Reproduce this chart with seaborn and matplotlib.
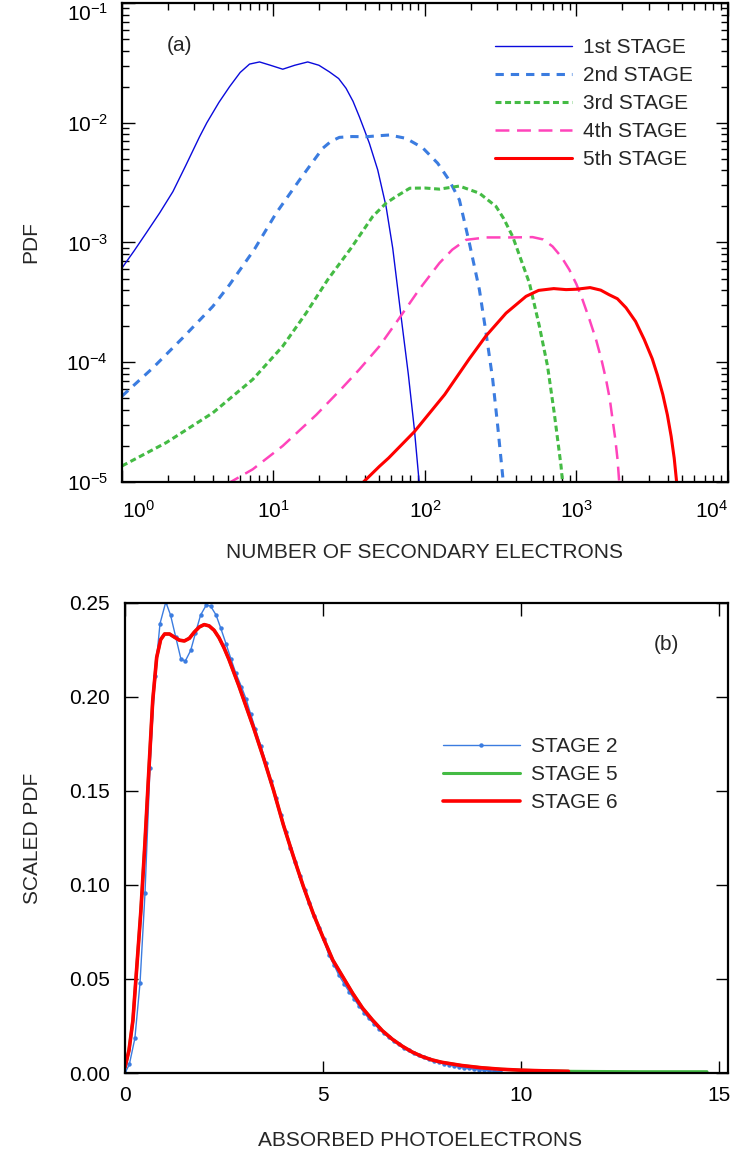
import numpy as np
import pandas as pd
import matplotlib
matplotlib.use("Agg")
import matplotlib.pyplot as plt
from matplotlib.ticker import (LogLocator, NullFormatter, FixedLocator, FormatStrFormatter,
                               LogFormatterSciNotation)
import seaborn as sns

# ---------------- Panel (a) data: PDF of number of secondary electrons ----------------
s1_x = [1.0, 1.202, 1.445, 1.770, 2.168, 2.630, 3.251, 3.631, 4.365, 5.129, 6.026, 6.950,
        8.091, 9.55, 11.51, 13.80, 16.83, 19.95, 23.39, 26.92, 30.13, 33.50, 36.90, 39.81,
        42.95, 48.75, 55.34, 61.24, 69.50, 77.62, 85.11, 91.83]
s1_y = [6.12e-4, 8.51e-4, 1.20e-3, 1.76e-3, 2.66e-3, 4.37e-3, 7.64e-3, 1.0e-2, 1.48e-2,
        2.0e-2, 2.63e-2, 3.09e-2, 3.22e-2, 3.02e-2, 2.80e-2, 3.02e-2, 3.22e-2, 3.02e-2,
        2.66e-2, 2.34e-2, 1.94e-2, 1.51e-2, 1.12e-2, 8.71e-3, 6.73e-3, 4.04e-3, 2.0e-3,
        8.97e-4, 2.42e-4, 7.94e-5, 2.75e-5, 9.5e-6]

s2_x = [1.0, 1.60, 2.52, 3.98, 5.13, 7.50, 10.42, 14.86, 21.13, 23.99, 27.23, 33.11, 40.83,
        50.12, 58.21, 74.99, 96.6, 121.3, 144.5, 168.7, 196.3, 228.6, 252.9, 279.9, 302.0,
        330.0]
s2_y = [5.21e-5, 8.97e-5, 1.60e-4, 2.93e-4, 4.44e-4, 8.81e-4, 1.76e-3, 3.33e-3, 6.12e-3,
        7.0e-3, 7.55e-3, 7.67e-3, 7.64e-3, 7.80e-3, 7.90e-3, 7.41e-3, 6.17e-3, 4.59e-3,
        3.31e-3, 2.27e-3, 9.89e-4, 4.04e-4, 1.76e-4, 7.18e-5, 2.93e-5, 9.5e-6]

s3_x = [1.0, 1.959, 3.98, 7.295, 11.51, 16.44, 22.80, 32.51, 45.19, 55.34, 64.42, 79.43,
        100.0, 124.5, 168.7, 228.6, 294.4, 331.1, 379.3, 488.7, 568.9, 644.2, 712.9, 790.7,
        812.0]
s3_y = [1.36e-5, 2.13e-5, 3.78e-5, 7.18e-5, 1.36e-4, 2.58e-4, 4.89e-4, 8.97e-4, 1.65e-3,
        2.13e-3, 2.42e-3, 2.84e-3, 2.85e-3, 2.79e-3, 2.96e-3, 2.58e-3, 2.0e-3, 1.58e-3,
        1.12e-3, 4.59e-4, 2.0e-4, 9.27e-5, 3.78e-5, 1.36e-5, 9.5e-6]

s4_x = [4.9, 7.295, 11.51, 19.14, 28.18, 36.90, 50.0, 67.76, 91.83, 124.5, 151.4, 186.6,
        252.9, 379.3, 512.9, 603.0, 695.0, 794.3, 897.5, 1000, 1096, 1216, 1346, 1462,
        1567, 1660, 1730, 1803, 1866, 1920]
s4_y = [9.55e-6, 1.276e-5, 2.0e-5, 3.63e-5, 6.03e-5, 8.71e-5, 1.358e-4, 2.34e-4, 4.07e-4,
        6.73e-4, 8.71e-4, 1.052e-3, 1.102e-3, 1.102e-3, 1.109e-3, 1.06e-3, 9.27e-4,
        7.59e-4, 5.92e-4, 4.47e-4, 3.33e-4, 2.29e-4, 1.545e-4, 1.05e-4, 7.18e-5, 4.90e-5,
        3.33e-5, 2.29e-5, 1.545e-5, 9.5e-6]

s5_x = [38.0, 50.0, 57.54, 85.11, 134.9, 196.3, 252.9, 342.8, 464.5, 562.3, 707.9, 853.1,
        1000, 1230, 1445, 1644, 1862, 2123, 2455, 2799, 3162, 3428, 3715, 3981, 4217, 4416,
        4600]
s5_y = [9.6e-6, 1.349e-5, 1.585e-5, 2.63e-5, 5.37e-5, 1.07e-4, 1.66e-4, 2.57e-4, 3.55e-4,
        3.98e-4, 4.12e-4, 4.04e-4, 4.07e-4, 4.20e-4, 4.0e-4, 3.66e-4, 3.39e-4, 2.85e-4,
        2.19e-4, 1.55e-4, 1.07e-4, 7.76e-5, 5.37e-5, 3.63e-5, 2.40e-5, 1.58e-5, 9.5e-6]

labels_a = ["1st STAGE", "2nd STAGE", "3rd STAGE", "4th STAGE", "5th STAGE"]

# ---------------- Panel (b) data: scaled PDF of absorbed photoelectrons ----------------
b2_x = [0.0, 0.11, 0.25, 0.38, 0.505, 0.63, 0.757, 0.884, 1.03, 1.15, 1.28, 1.41, 1.52, 1.66,
        1.78, 1.91, 2.05, 2.16, 2.30, 2.42, 2.55, 2.68, 2.80, 2.94, 3.06, 3.17, 3.29, 3.43,
        3.56, 3.69, 3.81, 3.94, 4.07, 4.18, 4.30, 4.42, 4.54, 4.66, 4.78, 4.90, 5.02, 5.15,
        5.28, 5.40, 5.53, 5.66, 5.78, 5.91, 6.04, 6.16, 6.29, 6.42, 6.54, 6.67, 6.80, 6.92,
        7.05, 7.18, 7.30, 7.43, 7.56, 7.68, 7.81, 7.94, 8.06, 8.19, 8.32, 8.44, 8.57, 8.70,
        8.82, 8.95, 9.08, 9.20, 9.33, 9.46]
b2_y = [0.0, 0.0046, 0.0185, 0.048, 0.0956, 0.162, 0.211, 0.239, 0.2505, 0.2436, 0.232,
        0.2204, 0.219, 0.2248, 0.234, 0.2436, 0.2488, 0.2484, 0.2436, 0.2365, 0.2284, 0.2200,
        0.2126, 0.2055, 0.1988, 0.1912, 0.1832, 0.1740, 0.1651, 0.1553, 0.1461, 0.1371,
        0.1282, 0.1195, 0.1122, 0.1046, 0.0972, 0.0902, 0.0835, 0.0773, 0.0712, 0.0626,
        0.0574, 0.0521, 0.0476, 0.0433, 0.0396, 0.0356, 0.0321, 0.0290, 0.0262, 0.0236,
        0.0212, 0.0190, 0.0170, 0.0152, 0.0135, 0.0120, 0.0106, 0.0094, 0.0083, 0.0073,
        0.0064, 0.0056, 0.0049, 0.0043, 0.0037, 0.0032, 0.0028, 0.0024, 0.0020, 0.0017,
        0.0015, 0.0012, 0.0010, 0.0008]

b6_x = [0.0, 0.1, 0.2, 0.3, 0.4, 0.5, 0.6, 0.7, 0.8, 0.9, 1.0, 1.125, 1.25, 1.375, 1.5,
        1.625, 1.75, 1.875, 2.0, 2.125, 2.25, 2.375, 2.5, 2.625, 2.75, 2.875, 3.0, 3.25,
        3.5, 3.75, 4.0, 4.25, 4.5, 4.75, 5.0, 5.25, 5.5, 5.75, 6.0, 6.25, 6.5, 6.75, 7.0,
        7.25, 7.5, 7.75, 8.0, 8.5, 9.0, 9.5, 10.0, 10.5, 11.2]
b6_y = [0.003, 0.012, 0.028, 0.057, 0.086, 0.121, 0.160, 0.198, 0.221, 0.2305, 0.2335,
        0.2335, 0.2318, 0.2302, 0.2298, 0.2312, 0.2345, 0.2372, 0.2385, 0.2378, 0.2355,
        0.2315, 0.2262, 0.2200, 0.2130, 0.2060, 0.1985, 0.1835, 0.1675, 0.1505, 0.1320,
        0.1154, 0.0995, 0.0850, 0.0722, 0.0600, 0.0512, 0.0424, 0.0345, 0.0282, 0.0225,
        0.0180, 0.0143, 0.0112, 0.0088, 0.0070, 0.0057, 0.0040, 0.0028, 0.0020, 0.0015,
        0.0012, 0.0009]

b5_x = b6_x + [12.0, 13.0, 14.0, 14.7]
b5_y = b6_y + [0.0008, 0.0007, 0.0007, 0.0007]

labels_b = ["STAGE 2", "STAGE 5", "STAGE 6"]

# ---------------- Style ----------------
sns.set_style("ticks")
plt.rcParams['font.family'] = ['Liberation Sans', 'DejaVu Sans']
plt.rcParams['mathtext.fontset'] = 'custom'
plt.rcParams['mathtext.rm'] = 'Liberation Sans'
plt.rcParams['mathtext.it'] = 'Liberation Sans:italic'
plt.rcParams['mathtext.bf'] = 'Liberation Sans:bold'
plt.rcParams['lines.scale_dashes'] = False
plt.rcParams['axes.unicode_minus'] = True

FS = 15
fig = plt.figure(figsize=(7.34, 11.58), dpi=100)
axa = fig.add_axes([0.1662, 0.5838, 0.8256, 0.4136])
axb = fig.add_axes([0.1703, 0.0734, 0.8215, 0.4059])

# ---------------- Panel (a) ----------------
series_a = [(s1_x, s1_y), (s2_x, s2_y), (s3_x, s3_y), (s4_x, s4_y), (s5_x, s5_y)]
colors_a = ["#0a0adc", "#3b7ce0", "#44bb44", "#ff44bb", "#ff0000"]
widths_a = [1.0, 2.2, 2.2, 1.8, 2.2]
dashes_a = [None, (6, 5), (4.3, 2.6), (10, 5.5), None]
handles_a = []
for (xs, ys), c, w, d, lab in zip(series_a, colors_a, widths_a, dashes_a, labels_a):
    df = pd.DataFrame({"x": xs, "y": ys})
    sns.lineplot(data=df, x="x", y="y", ax=axa, color=c, lw=w, estimator=None,
                 sort=False, legend=False)
    ln = axa.lines[-1]
    if d is not None:
        ln.set_dashes(d)
    ln.set_label(lab)
    handles_a.append(ln)

axa.set_xscale("log")
axa.set_yscale("log")
axa.set_xlim(1, 1e4)
axa.set_ylim(1e-5, 1e-1)
axa.xaxis.set_major_locator(FixedLocator([1, 10, 100, 1000, 10000]))
axa.yaxis.set_major_locator(FixedLocator([1e-5, 1e-4, 1e-3, 1e-2, 1e-1]))
axa.xaxis.set_major_formatter(LogFormatterSciNotation())
axa.yaxis.set_major_formatter(LogFormatterSciNotation())
axa.xaxis.set_minor_locator(LogLocator(base=10, subs=np.arange(2, 10), numticks=50))
axa.yaxis.set_minor_locator(LogLocator(base=10, subs=np.arange(2, 10), numticks=50))
axa.xaxis.set_minor_formatter(NullFormatter())
axa.yaxis.set_minor_formatter(NullFormatter())
axa.tick_params(which="both", direction="in", top=True, right=True, width=1.0,
                labelsize=FS, colors="black")
axa.tick_params(which="major", length=9)
axa.tick_params(which="minor", length=5)
axa.tick_params(axis="y", which="major", pad=10)
axa.tick_params(axis="x", which="major", pad=13)
axa.set_xlabel("NUMBER OF SECONDARY ELECTRONS", fontsize=FS)
axa.set_ylabel("PDF", fontsize=FS)
axa.xaxis.set_label_coords(0.5, -0.127)
axa.yaxis.set_label_coords(-0.135, 0.5)
axa.text(0.074, 0.912, "(a)", transform=axa.transAxes, fontsize=FS, ha="left", va="center")
axa.legend(handles=handles_a, labels=labels_a, loc="upper left",
           bbox_to_anchor=(0.6155, 0.927), frameon=False, fontsize=FS,
           handlelength=3.7, handletextpad=0.53, labelspacing=0.43,
           borderpad=0, borderaxespad=0)

# ---------------- Panel (b) ----------------
df5 = pd.DataFrame({"x": b5_x, "y": b5_y})
sns.lineplot(data=df5, x="x", y="y", ax=axb, color="#44bb44", lw=2.2, estimator=None,
             sort=False, legend=False)
h5 = axb.lines[-1]
df2 = pd.DataFrame({"x": b2_x, "y": b2_y})
sns.lineplot(data=df2, x="x", y="y", ax=axb, color="#3b7ce0", lw=1.0, estimator=None,
             sort=False, legend=False, marker="o", markersize=3.2, markeredgewidth=0)
h2 = axb.lines[-1]
df6 = pd.DataFrame({"x": b6_x, "y": b6_y})
sns.lineplot(data=df6, x="x", y="y", ax=axb, color="#ff0000", lw=2.6, estimator=None,
             sort=False, legend=False)
h6 = axb.lines[-1]

axb.set_xlim(0, 15.23)
axb.set_ylim(0, 0.25)
axb.xaxis.set_major_locator(FixedLocator([0, 5, 10, 15]))
axb.yaxis.set_major_locator(FixedLocator([0, 0.05, 0.10, 0.15, 0.20, 0.25]))
axb.yaxis.set_major_formatter(FormatStrFormatter("%.2f"))
axb.xaxis.set_major_formatter(FormatStrFormatter("%d"))
axb.tick_params(which="major", direction="in", top=True, right=True, width=1.0,
                length=9, labelsize=FS, colors="black")
axb.tick_params(axis="y", pad=11)
axb.tick_params(axis="x", pad=9)
axb.set_xlabel("ABSORBED PHOTOELECTRONS", fontsize=FS)
axb.set_ylabel("SCALED PDF", fontsize=FS)
axb.xaxis.set_label_coords(0.49, -0.124)
axb.yaxis.set_label_coords(-0.138, 0.5)
axb.text(0.877, 0.911, "(b)", transform=axb.transAxes, fontsize=FS, ha="left", va="center")
axb.legend(handles=[h2, h5, h6], labels=labels_b, loc="upper left",
           bbox_to_anchor=(0.527, 0.715), frameon=False, fontsize=FS,
           handlelength=3.7, handletextpad=0.53, labelspacing=0.43,
           borderpad=0, borderaxespad=0, numpoints=1)

for ax in (axa, axb):
    for sp in ax.spines.values():
        sp.set_linewidth(1.6)
        sp.set_color("black")
        sp.set_visible(True)

# keep the end labels of panel (a) inside the figure, as in the reference
fig.canvas.draw()
xt = axa.xaxis.get_major_ticks()
xt[0].label1.set_horizontalalignment("left")
xt[-1].label1.set_horizontalalignment("right")
yt = axa.yaxis.get_major_ticks()
yt[-1].label1.set_verticalalignment("top")

fig.savefig("out.png", dpi=100)
